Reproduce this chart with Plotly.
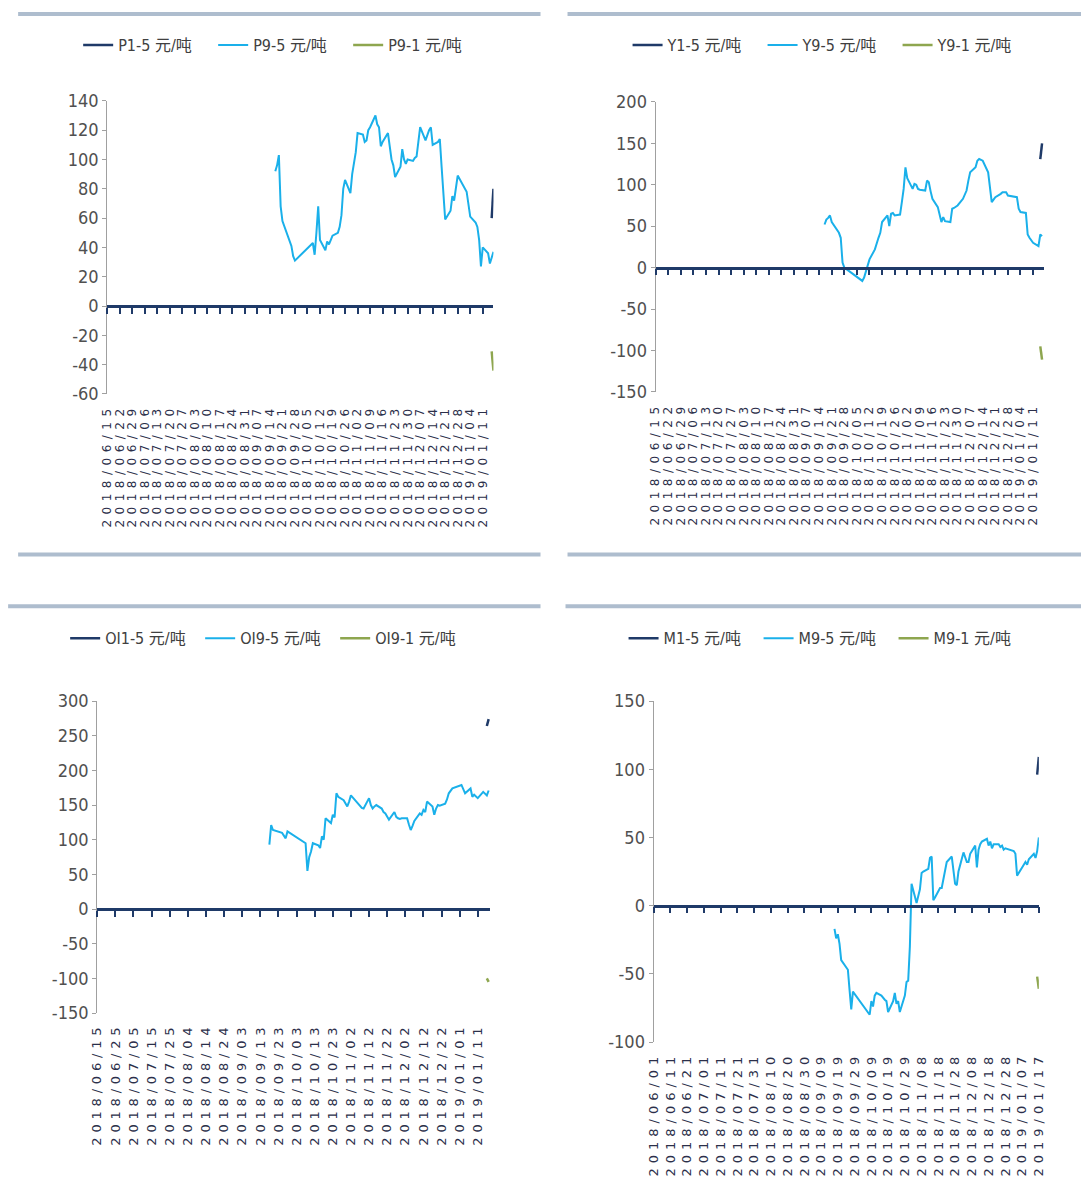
import plotly.graph_objects as go

# Empirical page->picture mapping observed in the sandbox: picture = S * (figure_px + OFF)
W, H = 1088, 1204
S, OFF = 0.9855, 8

# ---------------- tick labels ----------------
TOP_TICKS = ["2018/06/15", "2018/06/22", "2018/06/29", "2018/07/06", "2018/07/13", "2018/07/20",
             "2018/07/27", "2018/08/03", "2018/08/10", "2018/08/17", "2018/08/24", "2018/08/31",
             "2018/09/07", "2018/09/14", "2018/09/21", "2018/09/28", "2018/10/05", "2018/10/12",
             "2018/10/19", "2018/10/26", "2018/11/02", "2018/11/09", "2018/11/16", "2018/11/23",
             "2018/11/30", "2018/12/07", "2018/12/14", "2018/12/21", "2018/12/28", "2019/01/04",
             "2019/01/11"]
OI_TICKS = ["2018/06/15", "2018/06/25", "2018/07/05", "2018/07/15", "2018/07/25", "2018/08/04",
            "2018/08/14", "2018/08/24", "2018/09/03", "2018/09/13", "2018/09/23", "2018/10/03",
            "2018/10/13", "2018/10/23", "2018/11/02", "2018/11/12", "2018/11/22", "2018/12/02",
            "2018/12/12", "2018/12/22", "2019/01/01", "2019/01/11"]
M_TICKS = ["2018/06/01", "2018/06/11", "2018/06/21", "2018/07/01", "2018/07/11", "2018/07/21",
           "2018/07/31", "2018/08/10", "2018/08/20", "2018/08/30", "2018/09/09", "2018/09/19",
           "2018/09/29", "2018/10/09", "2018/10/19", "2018/10/29", "2018/11/08", "2018/11/18",
           "2018/11/28", "2018/12/08", "2018/12/18", "2018/12/28", "2019/01/07", "2019/01/17"]

P_YTICKS = [-60, -40, -20, 0, 20, 40, 60, 80, 100, 120, 140]
Y_YTICKS = [-150, -100, -50, 0, 50, 100, 150, 200]
OI_YTICKS = [-150, -100, -50, 0, 50, 100, 150, 200, 250, 300]
M_YTICKS = [-100, -50, 0, 50, 100, 150]

# ---------------- data ----------------
P95_DATES = ["2018-09-17", "2018-09-18", "2018-09-19", "2018-09-20", "2018-09-21", "2018-09-25",
             "2018-09-26", "2018-09-27", "2018-09-28", "2018-10-08", "2018-10-09", "2018-10-10",
             "2018-10-11", "2018-10-12", "2018-10-15", "2018-10-16", "2018-10-17", "2018-10-18",
             "2018-10-19", "2018-10-22", "2018-10-23", "2018-10-24", "2018-10-25", "2018-10-26",
             "2018-10-29", "2018-10-30", "2018-10-31", "2018-11-01", "2018-11-02", "2018-11-05",
             "2018-11-06", "2018-11-07", "2018-11-08", "2018-11-09", "2018-11-12", "2018-11-13",
             "2018-11-14", "2018-11-15", "2018-11-16", "2018-11-19", "2018-11-20", "2018-11-21",
             "2018-11-22", "2018-11-23", "2018-11-26", "2018-11-27", "2018-11-28", "2018-11-29",
             "2018-11-30", "2018-12-03", "2018-12-04", "2018-12-05", "2018-12-06", "2018-12-07",
             "2018-12-10", "2018-12-11", "2018-12-12", "2018-12-13", "2018-12-14", "2018-12-17",
             "2018-12-18", "2018-12-19", "2018-12-20", "2018-12-21", "2018-12-24", "2018-12-25",
             "2018-12-26", "2018-12-27", "2018-12-28", "2019-01-02", "2019-01-03", "2019-01-04",
             "2019-01-07", "2019-01-08", "2019-01-09", "2019-01-10", "2019-01-11", "2019-01-14",
             "2019-01-15", "2019-01-16", "2019-01-17"]
P95_VALS = [92, 96, 103, 68, 58, 45,
            41, 34, 31, 43, 35, 50,
            68, 45, 38, 44, 42, 45,
            48, 50, 54, 62, 80, 86,
            77, 90, 97, 105, 118, 117,
            112, 113, 120, 122, 130, 124,
            122, 109, 112, 118, 109, 100,
            96, 88, 95, 107, 100, 97,
            100, 99, 101, 102, 112, 122,
            113, 117, 120, 122, 110, 112,
            114, 95, 75, 59, 65, 75,
            72, 82, 89, 78, 70, 61,
            57, 54, 45, 27, 40, 36,
            29, 33, 37]
P15_DATES = ["2019-01-16", "2019-01-17"]
P15_VALS = [60, 80]
P91_DATES = ["2019-01-16", "2019-01-17"]
P91_VALS = [-31, -44]

Y95_DATES = ["2018-09-17", "2018-09-18", "2018-09-19", "2018-09-20", "2018-09-21", "2018-09-25",
             "2018-09-26", "2018-09-27", "2018-09-28", "2018-10-08", "2018-10-09", "2018-10-10",
             "2018-10-11", "2018-10-12", "2018-10-15", "2018-10-16", "2018-10-17", "2018-10-18",
             "2018-10-19", "2018-10-22", "2018-10-23", "2018-10-24", "2018-10-25", "2018-10-26",
             "2018-10-29", "2018-10-30", "2018-10-31", "2018-11-01", "2018-11-02", "2018-11-05",
             "2018-11-06", "2018-11-07", "2018-11-08", "2018-11-09", "2018-11-12", "2018-11-13",
             "2018-11-14", "2018-11-15", "2018-11-16", "2018-11-19", "2018-11-20", "2018-11-21",
             "2018-11-22", "2018-11-23", "2018-11-26", "2018-11-27", "2018-11-28", "2018-11-29",
             "2018-11-30", "2018-12-03", "2018-12-04", "2018-12-05", "2018-12-06", "2018-12-07",
             "2018-12-10", "2018-12-11", "2018-12-12", "2018-12-13", "2018-12-14", "2018-12-17",
             "2018-12-18", "2018-12-19", "2018-12-20", "2018-12-21", "2018-12-24", "2018-12-25",
             "2018-12-26", "2018-12-27", "2018-12-28", "2019-01-02", "2019-01-03", "2019-01-04",
             "2019-01-07", "2019-01-08", "2019-01-09", "2019-01-10", "2019-01-11", "2019-01-14",
             "2019-01-15", "2019-01-16"]
Y95_VALS = [52, 58, 60, 63, 55, 42,
            36, 6, 0, -16, -12, -4,
            2, 10, 22, 30, 36, 42,
            55, 63, 50, 65, 66, 63,
            64, 79, 95, 121, 108, 95,
            101, 100, 95, 94, 93, 105,
            103, 92, 83, 73, 64, 55,
            61, 56, 55, 71, 72, 74,
            75, 83, 88, 93, 105, 115,
            121, 129, 131, 130, 129, 115,
            95, 79, 82, 85, 89, 91,
            91, 91, 87, 85, 71, 67,
            66, 40, 36, 33, 30, 26,
            40, 38]
Y15_DATES = ["2019-01-15", "2019-01-16"]
Y15_VALS = [131, 150]
Y91_DATES = ["2019-01-15", "2019-01-16"]
Y91_VALS = [-95, -111]

OI95_DATES = ["2018-09-18", "2018-09-19", "2018-09-20", "2018-09-21", "2018-09-25", "2018-09-26",
              "2018-09-27", "2018-09-28", "2018-10-08", "2018-10-09", "2018-10-10", "2018-10-11",
              "2018-10-12", "2018-10-15", "2018-10-16", "2018-10-17", "2018-10-18", "2018-10-19",
              "2018-10-22", "2018-10-23", "2018-10-24", "2018-10-25", "2018-10-26", "2018-10-29",
              "2018-10-30", "2018-10-31", "2018-11-01", "2018-11-02", "2018-11-05", "2018-11-06",
              "2018-11-07", "2018-11-08", "2018-11-09", "2018-11-12", "2018-11-13", "2018-11-14",
              "2018-11-15", "2018-11-16", "2018-11-19", "2018-11-20", "2018-11-21", "2018-11-22",
              "2018-11-23", "2018-11-26", "2018-11-27", "2018-11-28", "2018-11-29", "2018-11-30",
              "2018-12-03", "2018-12-04", "2018-12-05", "2018-12-06", "2018-12-07", "2018-12-10",
              "2018-12-11", "2018-12-12", "2018-12-13", "2018-12-14", "2018-12-17", "2018-12-18",
              "2018-12-19", "2018-12-20", "2018-12-21", "2018-12-24", "2018-12-25", "2018-12-26",
              "2018-12-27", "2018-12-28", "2019-01-02", "2019-01-03", "2019-01-04", "2019-01-07",
              "2019-01-08", "2019-01-09", "2019-01-10", "2019-01-11", "2019-01-14", "2019-01-15",
              "2019-01-16", "2019-01-17"]
OI95_VALS = [93, 121, 114, 113, 110, 106,
             102, 112, 95, 55, 75, 83,
             95, 92, 88, 105, 100, 131,
             124, 136, 132, 167, 162, 157,
             152, 148, 155, 164, 155, 152,
             150, 146, 145, 160, 150, 145,
             148, 150, 145, 140, 138, 133,
             129, 140, 133, 131, 130, 131,
             131, 122, 114, 120, 127, 138,
             136, 143, 140, 155, 148, 136,
             145, 150, 149, 152, 158, 167,
             171, 174, 179, 172, 167, 174,
             162, 165, 163, 160, 169, 166,
             164, 171]
OI15_DATES = ["2019-01-16", "2019-01-17"]
OI15_VALS = [264, 274]
OI91_DATES = ["2019-01-16", "2019-01-17"]
OI91_VALS = [-100, -105]

M95_DATES = ["2018-09-17", "2018-09-18", "2018-09-19", "2018-09-20", "2018-09-21", "2018-09-25",
             "2018-09-26", "2018-09-27", "2018-09-28", "2018-10-08", "2018-10-09", "2018-10-10",
             "2018-10-11", "2018-10-12", "2018-10-15", "2018-10-16", "2018-10-17", "2018-10-18",
             "2018-10-19", "2018-10-22", "2018-10-23", "2018-10-24", "2018-10-25", "2018-10-26",
             "2018-10-29", "2018-10-30", "2018-10-31", "2018-11-01", "2018-11-02", "2018-11-05",
             "2018-11-06", "2018-11-07", "2018-11-08", "2018-11-09", "2018-11-12", "2018-11-13",
             "2018-11-14", "2018-11-15", "2018-11-16", "2018-11-19", "2018-11-20", "2018-11-21",
             "2018-11-22", "2018-11-23", "2018-11-26", "2018-11-27", "2018-11-28", "2018-11-29",
             "2018-11-30", "2018-12-03", "2018-12-04", "2018-12-05", "2018-12-06", "2018-12-07",
             "2018-12-10", "2018-12-11", "2018-12-12", "2018-12-13", "2018-12-14", "2018-12-17",
             "2018-12-18", "2018-12-19", "2018-12-20", "2018-12-21", "2018-12-24", "2018-12-25",
             "2018-12-26", "2018-12-27", "2018-12-28", "2019-01-02", "2019-01-03", "2019-01-04",
             "2019-01-07", "2019-01-08", "2019-01-09", "2019-01-10", "2019-01-11", "2019-01-14",
             "2019-01-15", "2019-01-16", "2019-01-17"]
M95_VALS = [-17, -24, -21, -28, -40, -47,
            -62, -76, -63, -80, -70, -74,
            -66, -64, -66, -68, -69, -70,
            -78, -70, -64, -72, -70, -78,
            -66, -56, -55, -30, 16, 2,
            7, 12, 24, 25, 27, 35,
            36, 4, 6, 13, 13, 20,
            28, 32, 36, 25, 16, 15,
            25, 39, 35, 32, 32, 38,
            44, 28, 41, 45, 47, 49,
            44, 47, 42, 45, 45, 43,
            44, 41, 42, 40, 38, 22,
            28, 30, 32, 30, 34, 38,
            35, 40, 50]
M15_DATES = ["2019-01-16", "2019-01-17"]
M15_VALS = [96, 109]
M91_DATES = ["2019-01-16", "2019-01-17"]
M91_VALS = [-52, -61]

# ---------------- styles ----------------
NAVY = "#1F3A68"
BLUE = "#1AB0EA"
OLIVE = "#8EA64F"
FONT = "DejaVu Sans Condensed, Noto Sans CJK SC, sans-serif"
TICKFONT = "DejaVu Sans, Noto Sans CJK SC, sans-serif"
BAR = "#AEBDCE"

# panel geometry in target-picture pixels
PANELS = [
    dict(prefix="P", x0=107, x1=493, y0=98, y1=392, yr=(-60, 140), yt=P_YTICKS,
         xr=("2018-06-15", "2019-01-17"), ticks=TOP_TICKS, leg=(78, 42), ls=5.5, tfs=12,
         series=[(P15_DATES, P15_VALS, NAVY), (P95_DATES, P95_VALS, BLUE), (P91_DATES, P91_VALS, OLIVE)]),
    dict(prefix="Y", x0=655, x1=1043, y0=99, y1=390, yr=(-150, 200), yt=Y_YTICKS,
         xr=("2018-06-15", "2019-01-17"), ticks=TOP_TICKS, leg=(627, 42), ls=5.5, tfs=12,
         series=[(Y15_DATES, Y15_VALS, NAVY), (Y95_DATES, Y95_VALS, BLUE), (Y91_DATES, Y91_VALS, OLIVE)]),
    dict(prefix="OI", x0=97, x1=490, y0=700, y1=1013, yr=(-150, 300), yt=OI_YTICKS,
         xr=("2018-06-15", "2019-01-18"), ticks=OI_TICKS, leg=(65, 637), ls=4.8, tfs=13,
         series=[(OI15_DATES, OI15_VALS, NAVY), (OI95_DATES, OI95_VALS, BLUE), (OI91_DATES, OI91_VALS, OLIVE)]),
    dict(prefix="M", x0=653, x1=1038, y0=700, y1=1042, yr=(-100, 150), yt=M_YTICKS,
         xr=("2018-06-01", "2019-01-17"), ticks=M_TICKS, leg=(623, 637), ls=5, tfs=13,
         series=[(M15_DATES, M15_VALS, NAVY), (M95_DATES, M95_VALS, BLUE), (M91_DATES, M91_VALS, OLIVE)]),
]
NAMES = ["1-5 元/吨", "9-5 元/吨", "9-1 元/吨"]


def fx(px):
    return (px / S - OFF) / W


def fy(py):
    return 1 - (py / S - OFF) / H


def ref(prefix, n):
    return prefix + ("" if n == 1 else str(n))


def key(prefix, n):
    return prefix + "axis" + ("" if n == 1 else str(n))


fig = go.Figure()
layout = dict(width=W, height=H, margin=dict(l=0, r=0, t=0, b=0),
              paper_bgcolor="white", plot_bgcolor="white", showlegend=True)

for i, p in enumerate(PANELS, start=1):
    xa, ya, za = ref("x", i), ref("y", i), ref("x", i + 4)
    legname = ref("legend", i)
    for (d, v, c), nm in zip(p["series"], NAMES):
        fig.add_trace(go.Scatter(x=d, y=v, mode="lines", name=p["prefix"] + nm,
                                 line=dict(color=c, width=2.0 if c == BLUE else 2.5),
                                 xaxis=xa, yaxis=ya, legend=legname, hoverinfo="skip"))
    fig.add_trace(go.Scatter(x=[], y=[], xaxis=za, yaxis=ya, showlegend=False, hoverinfo="skip"))

    dom_x = [fx(p["x0"]), fx(p["x1"])]
    dom_y = [fy(p["y1"]), fy(p["y0"])]
    ymin, ymax = p["yr"]
    zero_pos = dom_y[0] + (0 - ymin) / (ymax - ymin) * (dom_y[1] - dom_y[0])
    tickvals = [t.replace("/", "-") for t in p["ticks"]]
    ticktext = ['<span style="letter-spacing:%gpx">%s</span>' % (p["ls"], t) for t in p["ticks"]]

    layout[key("x", i)] = dict(domain=dom_x, anchor=ya, type="date", range=list(p["xr"]),
                               tickvals=tickvals, ticktext=ticktext, tickangle=-90,
                               showline=False, ticks="", showgrid=False, zeroline=False,
                               tickfont=dict(family=TICKFONT, size=p["tfs"], color="#2B2F4A"),
                               ticklabelstandoff=6)
    layout[key("x", i + 4)] = dict(overlaying=xa, anchor="free", position=zero_pos, type="date",
                                   range=list(p["xr"]), tickvals=tickvals, showticklabels=False,
                                   showline=True, linecolor=NAVY, linewidth=2.5,
                                   ticks="outside", ticklen=6, tickwidth=1.5, tickcolor=NAVY,
                                   showgrid=False, zeroline=False)
    layout[key("y", i)] = dict(domain=dom_y, anchor=xa, range=[ymin, ymax],
                               tickvals=p["yt"], ticktext=[str(t) for t in p["yt"]],
                               showline=True, linecolor="#A0A0A0", linewidth=1,
                               ticks="outside", ticklen=4, tickcolor="#A0A0A0",
                               showgrid=False, zeroline=False,
                               tickfont=dict(family=FONT, size=18, color="#505050"))
    lx, ly = p["leg"]
    layout[legname] = dict(orientation="h", x=fx(lx), y=fy(ly), xanchor="left", yanchor="middle",
                           font=dict(family=FONT, size=16, color="#404040"),
                           entrywidth=90, entrywidthmode="pixels", bgcolor="rgba(0,0,0,0)",
                           traceorder="normal")

# decorative panel separator bars (target-picture pixels)
BARS = [(18, 540, 9), (567, 1088, 9), (18, 540, 551), (567, 1088, 551), (8, 540, 603), (565, 1088, 603)]
layout["shapes"] = [dict(type="rect", xref="paper", yref="paper", x0=fx(a), x1=min(fx(b), 1.0),
                         y0=fy(y + 4), y1=fy(y), fillcolor=BAR, line=dict(width=0))
                    for a, b, y in BARS]

fig.update_layout(**layout)
fig.write_html("out.html")
